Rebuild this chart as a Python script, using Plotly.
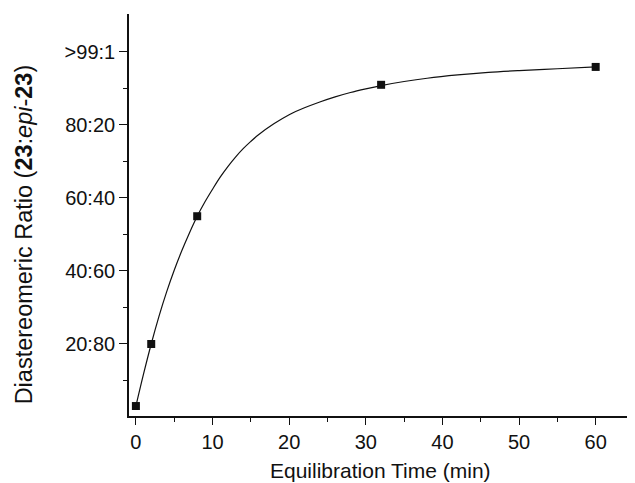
import plotly.graph_objects as go

# measured points
time_min = [0, 2, 8, 32, 60]
ratio = [3.0, 20.0, 55.0, 91.0, 95.9]

# fitted curve
curve_t = [0, 1, 2, 3, 4, 5, 6, 7, 8, 9, 10, 11, 12, 13, 14, 15, 16, 18, 20, 22, 24, 26, 28, 30,
           32, 35, 38, 42, 46, 50, 55, 60]
curve_r = [3.0, 11.8, 20.0, 27.5, 34.2, 40.2, 45.6, 50.5, 55.0, 58.9, 62.4, 65.7, 68.6, 71.2,
           73.5, 75.5, 77.3, 80.3, 82.8, 84.7, 86.3, 87.7, 88.9, 89.9, 90.8, 91.9, 92.8, 93.7,
           94.4, 94.9, 95.4, 95.9]

y_ticks = [0, 20, 40, 60, 80, 100]
y_labels = ["", "20:80", "40:60", "60:40", "80:20", ">99:1"]

ink = "#111111"
font = "Liberation Sans, Arial, sans-serif"

fig = go.Figure()
fig.add_trace(go.Scatter(x=curve_t, y=curve_r, mode="lines",
                         line=dict(color=ink, width=1.2, shape="spline"),
                         hoverinfo="skip"))
fig.add_trace(go.Scatter(x=time_min, y=ratio, mode="markers",
                         marker=dict(symbol="square", size=8, color=ink)))

# page body has an 8px margin, so the figure is shifted by that much
fig.update_layout(
    width=627, height=475,
    margin=dict(l=121, r=1, t=6, b=67),
    plot_bgcolor="white", paper_bgcolor="white",
    showlegend=False,
    font=dict(family=font, size=20, color=ink),
)
fig.update_xaxes(
    range=[-0.9, 65], showgrid=False, zeroline=False,
    showline=True, linecolor=ink, linewidth=1.6,
    ticks="outside", ticklen=7, tickwidth=1.4, tickcolor=ink,
    tick0=0, dtick=10,
    minor=dict(ticks="outside", ticklen=4, tickwidth=1.2, tickcolor=ink, dtick=5, tick0=0),
)
fig.update_yaxes(
    range=[0.27, 110.4], showgrid=False, zeroline=False,
    showline=True, linecolor=ink, linewidth=1.6,
    ticks="outside", ticklen=8, tickwidth=1.4, tickcolor=ink,
    tickmode="array", tickvals=y_ticks, ticktext=y_labels,
    minor=dict(ticks="outside", ticklen=4, tickwidth=1.2, tickcolor=ink,
               tickmode="array", tickvals=[10, 30, 50, 70, 90]),
)

fig.add_annotation(text="Equilibration Time (min)", xref="paper", yref="paper",
                   x=0.499, y=-0.136, xanchor="center", yanchor="middle",
                   showarrow=False, font=dict(size=21), borderpad=0)
fig.add_annotation(text="Diastereomeric Ratio (<b>23</b>:<i>epi</i>-<b>23</b>)",
                   xref="paper", yref="paper", x=-0.209, y=0.453,
                   xanchor="center", yanchor="middle", textangle=-90,
                   showarrow=False, font=dict(size=23.5), borderpad=0)

fig.write_html("out.html")
